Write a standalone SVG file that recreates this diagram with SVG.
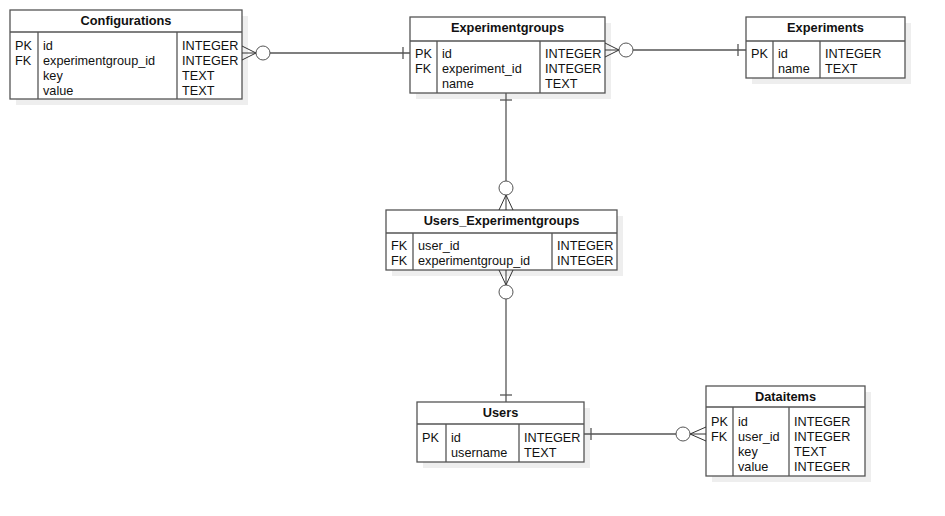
<svg xmlns="http://www.w3.org/2000/svg" width="945" height="516" viewBox="0 0 945 516">
  <style>
    .shadow { fill: #eeeeee; }
    .box { fill: #ffffff; stroke: #555555; stroke-width: 1.3; }
    .div { stroke: #555555; stroke-width: 1.3; fill: none; }
    .title { font-family: "Liberation Sans", Arial, sans-serif; font-size: 12.8px; font-weight: bold; fill: #111111; text-anchor: middle; }
    .cell { font-family: "Liberation Sans", Arial, sans-serif; font-size: 12.7px; fill: #111111; }
    .conn { stroke: #555555; stroke-width: 1.3; fill: none; }
    .foot { stroke: #333333; stroke-width: 1; fill: none; }
    .opt { stroke: #555555; stroke-width: 1; fill: #ffffff; }
  </style>
  <rect width="945" height="516" fill="#ffffff"/>

  <!-- Configurations -->
  <g id="configurations">
    <rect class="shadow" x="16" y="16" width="232" height="89"/>
    <rect class="box" x="10" y="10" width="232" height="89"/>
    <line class="div" x1="10" y1="32" x2="242" y2="32"/>
    <line class="div" x1="38" y1="32" x2="38" y2="99"/>
    <line class="div" x1="177" y1="32" x2="177" y2="99"/>
    <text class="title" x="126" y="25">Configurations</text>
    <text class="cell" x="15" y="50">PK</text>
    <text class="cell" x="15" y="65">FK</text>
    <text class="cell" x="43" y="50">id</text>
    <text class="cell" x="43" y="65">experimentgroup_id</text>
    <text class="cell" x="43" y="80">key</text>
    <text class="cell" x="43" y="95">value</text>
    <text class="cell" x="182" y="50">INTEGER</text>
    <text class="cell" x="182" y="65">INTEGER</text>
    <text class="cell" x="182" y="80">TEXT</text>
    <text class="cell" x="182" y="95">TEXT</text>
  </g>

  <!-- Experimentgroups -->
  <g id="experimentgroups">
    <rect class="shadow" x="416" y="23" width="195" height="76"/>
    <rect class="box" x="410" y="17" width="195" height="76"/>
    <line class="div" x1="410" y1="41" x2="605" y2="41"/>
    <line class="div" x1="437" y1="41" x2="437" y2="93"/>
    <line class="div" x1="540" y1="41" x2="540" y2="93"/>
    <text class="title" x="507.5" y="32">Experimentgroups</text>
    <text class="cell" x="415" y="58">PK</text>
    <text class="cell" x="415" y="73">FK</text>
    <text class="cell" x="442" y="58">id</text>
    <text class="cell" x="442" y="73">experiment_id</text>
    <text class="cell" x="442" y="88">name</text>
    <text class="cell" x="545" y="58">INTEGER</text>
    <text class="cell" x="545" y="73">INTEGER</text>
    <text class="cell" x="545" y="88">TEXT</text>
  </g>

  <!-- Experiments -->
  <g id="experiments">
    <rect class="shadow" x="752" y="23" width="159" height="61"/>
    <rect class="box" x="746" y="17" width="159" height="61"/>
    <line class="div" x1="746" y1="41" x2="905" y2="41"/>
    <line class="div" x1="773" y1="41" x2="773" y2="78"/>
    <line class="div" x1="820" y1="41" x2="820" y2="78"/>
    <text class="title" x="825.5" y="32">Experiments</text>
    <text class="cell" x="751" y="58">PK</text>
    <text class="cell" x="778" y="58">id</text>
    <text class="cell" x="778" y="73">name</text>
    <text class="cell" x="825" y="58">INTEGER</text>
    <text class="cell" x="825" y="73">TEXT</text>
  </g>

  <!-- Users_Experimentgroups -->
  <g id="users-experimentgroups">
    <rect class="shadow" x="392" y="216" width="231" height="60"/>
    <rect class="box" x="386" y="210" width="231" height="60"/>
    <line class="div" x1="386" y1="233" x2="617" y2="233"/>
    <line class="div" x1="413" y1="233" x2="413" y2="270"/>
    <line class="div" x1="552" y1="233" x2="552" y2="270"/>
    <text class="title" x="501.5" y="225">Users_Experimentgroups</text>
    <text class="cell" x="391" y="250">FK</text>
    <text class="cell" x="391" y="265">FK</text>
    <text class="cell" x="418" y="250">user_id</text>
    <text class="cell" x="418" y="265">experimentgroup_id</text>
    <text class="cell" x="557" y="250">INTEGER</text>
    <text class="cell" x="557" y="265">INTEGER</text>
  </g>

  <!-- Users -->
  <g id="users">
    <rect class="shadow" x="423" y="408" width="167" height="60"/>
    <rect class="box" x="417" y="402" width="167" height="60"/>
    <line class="div" x1="417" y1="424" x2="584" y2="424"/>
    <line class="div" x1="446" y1="424" x2="446" y2="462"/>
    <line class="div" x1="519" y1="424" x2="519" y2="462"/>
    <text class="title" x="500.5" y="417">Users</text>
    <text class="cell" x="422" y="442">PK</text>
    <text class="cell" x="451" y="442">id</text>
    <text class="cell" x="451" y="457">username</text>
    <text class="cell" x="524" y="442">INTEGER</text>
    <text class="cell" x="524" y="457">TEXT</text>
  </g>

  <!-- Dataitems -->
  <g id="dataitems">
    <rect class="shadow" x="712" y="392" width="159" height="90"/>
    <rect class="box" x="706" y="386" width="159" height="90"/>
    <line class="div" x1="706" y1="407" x2="865" y2="407"/>
    <line class="div" x1="733" y1="407" x2="733" y2="476"/>
    <line class="div" x1="789" y1="407" x2="789" y2="476"/>
    <text class="title" x="785.5" y="401">Dataitems</text>
    <text class="cell" x="711" y="426">PK</text>
    <text class="cell" x="711" y="441">FK</text>
    <text class="cell" x="738" y="426">id</text>
    <text class="cell" x="738" y="441">user_id</text>
    <text class="cell" x="738" y="456">key</text>
    <text class="cell" x="738" y="471">value</text>
    <text class="cell" x="794" y="426">INTEGER</text>
    <text class="cell" x="794" y="441">INTEGER</text>
    <text class="cell" x="794" y="456">TEXT</text>
    <text class="cell" x="794" y="471">INTEGER</text>
  </g>

  <!-- Relationships: bar = exactly one, circle + crow's foot = zero or many -->
  <g id="connectors">
    <!-- Configurations (many) to Experimentgroups (one) -->
    <g id="cfg-expgroup">
      <line class="conn" x1="270" y1="53" x2="410" y2="53"/>
      <line class="conn" x1="403" y1="47" x2="403" y2="59"/>
      <polyline class="foot" points="242,46 256,53 242,60"/>
      <line class="foot" x1="242" y1="53" x2="256" y2="53"/>
      <circle class="opt" cx="263" cy="53" r="7"/>
    </g>
    <!-- Experimentgroups (many) to Experiments (one) -->
    <g id="expgroup-exp">
      <line class="conn" x1="633" y1="50" x2="746" y2="50"/>
      <line class="conn" x1="738" y1="44" x2="738" y2="56"/>
      <polyline class="foot" points="605,43 619,50 605,57"/>
      <line class="foot" x1="605" y1="50" x2="619" y2="50"/>
      <circle class="opt" cx="626" cy="50" r="7"/>
    </g>
    <!-- Experimentgroups (one) to Users_Experimentgroups (many) -->
    <g id="expgroup-userexp">
      <line class="conn" x1="506" y1="93" x2="506" y2="181"/>
      <line class="conn" x1="500" y1="100" x2="512" y2="100"/>
      <polyline class="foot" points="499,210 506,195 513,210"/>
      <line class="foot" x1="506" y1="195" x2="506" y2="210"/>
      <circle class="opt" cx="506" cy="188" r="7"/>
    </g>
    <!-- Users_Experimentgroups (many) to Users (one) -->
    <g id="userexp-users">
      <line class="conn" x1="506" y1="299" x2="506" y2="402"/>
      <line class="conn" x1="500" y1="395" x2="512" y2="395"/>
      <polyline class="foot" points="499,270 506,285 513,270"/>
      <line class="foot" x1="506" y1="270" x2="506" y2="285"/>
      <circle class="opt" cx="506" cy="292" r="7"/>
    </g>
    <!-- Users (one) to Dataitems (many) -->
    <g id="users-dataitems">
      <line class="conn" x1="584" y1="434" x2="676" y2="434"/>
      <line class="conn" x1="591" y1="428" x2="591" y2="440"/>
      <polyline class="foot" points="706,427 690,434 706,441"/>
      <line class="foot" x1="690" y1="434" x2="706" y2="434"/>
      <circle class="opt" cx="683" cy="434" r="7"/>
    </g>
  </g>
</svg>
